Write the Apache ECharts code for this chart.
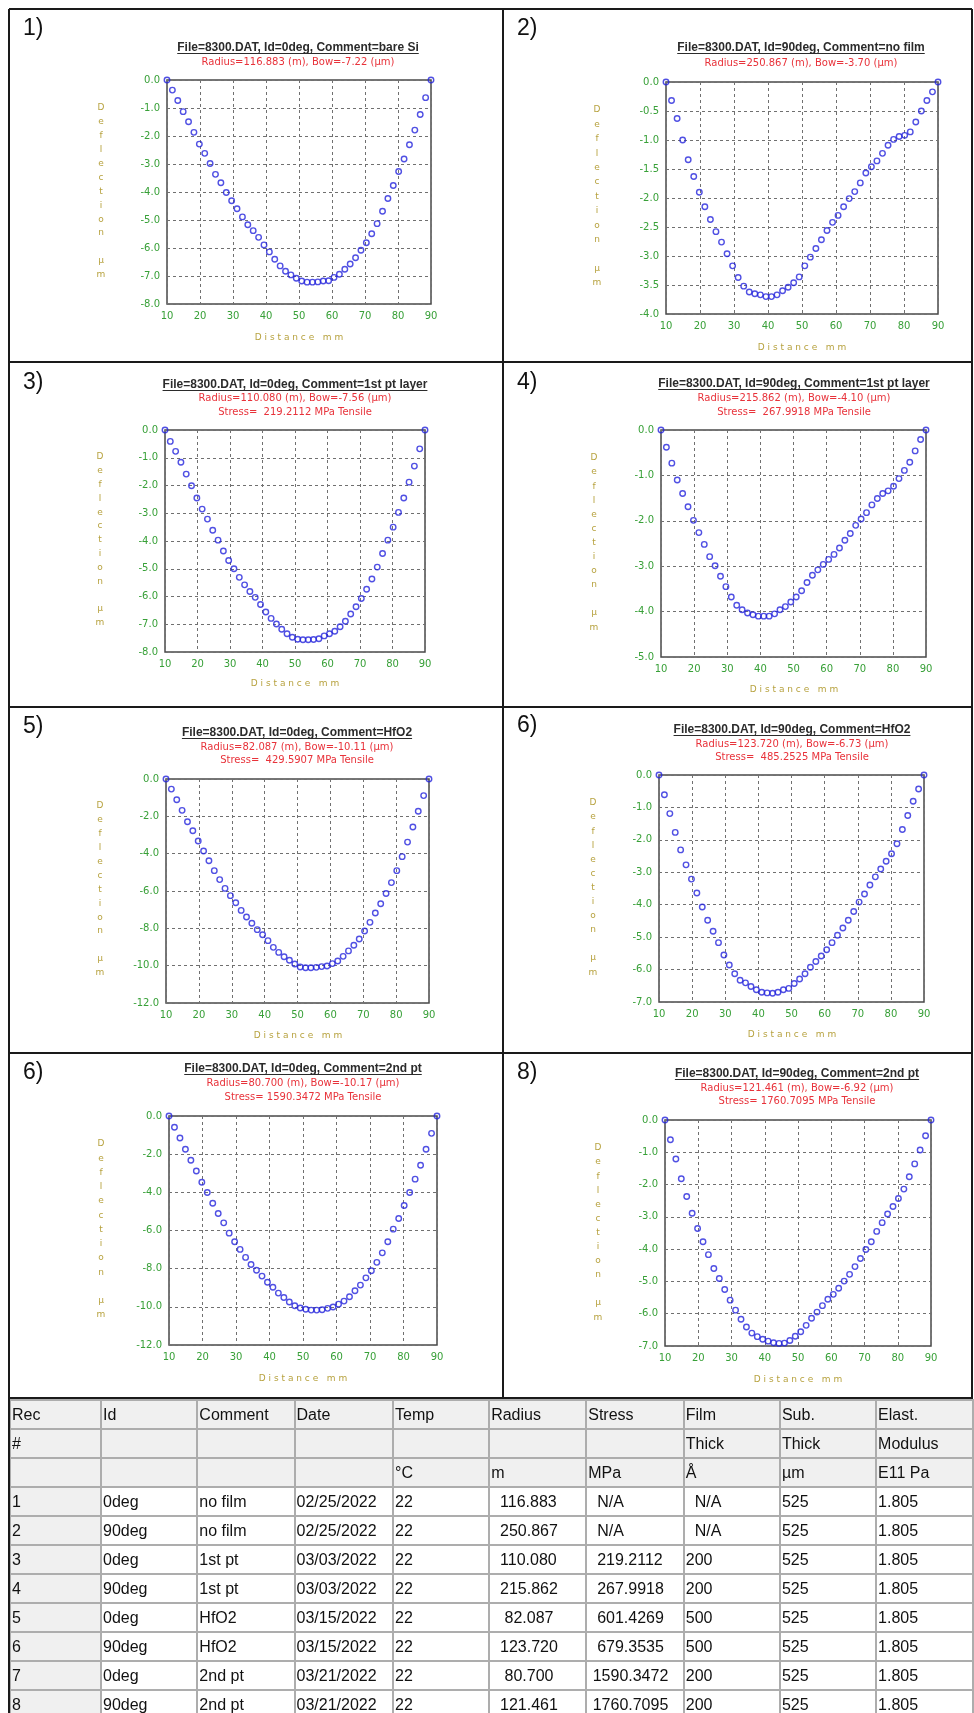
<!DOCTYPE html>
<html>
<head>
<meta charset="utf-8">
<title>8300.DAT deflection scans</title>
<script src="https://cdn.jsdelivr.net/npm/echarts@6.0.0/dist/echarts.min.js"></script>
<style>
  body { margin: 0; background: #fff; }
  #page { position: relative; width: 974px; height: 1713px; overflow: hidden; background: #fff; }
  #scans { position: absolute; left: 0; top: 0; width: 974px; height: 1400px; }
  #leftRule { position: absolute; left: 8px; top: 1398px; width: 2px; height: 315px; background: #1a1a1a; z-index: 2; }
  #recTable { position: absolute; left: 9px; top: 1399px; border-collapse: collapse; table-layout: fixed;
    font-family: "Liberation Sans", Arial, sans-serif; font-size: 16px; color: #111; }
  #recTable td { border: 2px solid #adadad; padding: 0 0 0 1px; white-space: pre; overflow: hidden;
    vertical-align: middle; line-height: 18px; }
  #recTable tr { height: 29px; }
  #recTable tr.head td { background: #f0f0f0; }
  #recTable td.rec { background: #f0f0f0; }
</style>
</head>
<body>
<div id="page">
  <div id="scans"></div>
  <div id="leftRule"></div>
  <table id="recTable"></table>
</div>
<script>
// sample positions along the wafer (mm), same for every scan
const distanceMm = [10.00, 11.63, 13.27, 14.90, 16.53, 18.16, 19.80, 21.43, 23.06, 24.69,
  26.33, 27.96, 29.59, 31.22, 32.86, 34.49, 36.12, 37.76, 39.39, 41.02,
  42.65, 44.29, 45.92, 47.55, 49.18, 50.82, 52.45, 54.08, 55.71, 57.35,
  58.98, 60.61, 62.24, 63.88, 65.51, 67.14, 68.78, 70.41, 72.04, 73.67,
  75.31, 76.94, 78.57, 80.20, 81.84, 83.47, 85.10, 86.73, 88.37, 90.00];

// deflection (um)
const deflection1 = [0, -0.36, -0.73, -1.13, -1.49, -1.87, -2.29, -2.62, -2.98, -3.37,
  -3.67, -4.02, -4.31, -4.60, -4.89, -5.17, -5.38, -5.62, -5.89, -6.14,
  -6.40, -6.64, -6.83, -6.96, -7.08, -7.18, -7.22, -7.22, -7.21, -7.18,
  -7.17, -7.05, -6.94, -6.76, -6.57, -6.35, -6.08, -5.81, -5.49, -5.13,
  -4.69, -4.23, -3.77, -3.27, -2.82, -2.31, -1.79, -1.23, -0.63, 0];
const deflection2 = [0, -0.32, -0.63, -1.00, -1.34, -1.63, -1.90, -2.15, -2.37, -2.58,
  -2.76, -2.96, -3.17, -3.37, -3.52, -3.62, -3.65, -3.67, -3.70, -3.70,
  -3.67, -3.60, -3.54, -3.46, -3.36, -3.17, -3.02, -2.87, -2.72, -2.56,
  -2.42, -2.30, -2.15, -2.01, -1.89, -1.74, -1.57, -1.46, -1.36, -1.23,
  -1.09, -0.99, -0.94, -0.92, -0.86, -0.69, -0.50, -0.32, -0.17, 0];
const deflection3 = [0, -0.41, -0.77, -1.16, -1.59, -2.01, -2.45, -2.85, -3.21, -3.61,
  -3.97, -4.36, -4.70, -5.00, -5.31, -5.58, -5.82, -6.03, -6.29, -6.56,
  -6.79, -6.99, -7.18, -7.34, -7.47, -7.54, -7.56, -7.56, -7.55, -7.52,
  -7.42, -7.34, -7.25, -7.09, -6.89, -6.63, -6.37, -6.07, -5.74, -5.37,
  -4.94, -4.45, -3.97, -3.50, -2.97, -2.45, -1.88, -1.30, -0.68, 0];
const deflection4 = [0, -0.38, -0.73, -1.10, -1.40, -1.69, -1.99, -2.26, -2.52, -2.79,
  -2.99, -3.22, -3.45, -3.68, -3.86, -3.96, -4.03, -4.07, -4.10, -4.10,
  -4.10, -4.05, -3.96, -3.89, -3.79, -3.68, -3.54, -3.36, -3.20, -3.08,
  -2.96, -2.85, -2.74, -2.60, -2.43, -2.28, -2.10, -1.96, -1.82, -1.65,
  -1.51, -1.40, -1.34, -1.24, -1.07, -0.89, -0.71, -0.46, -0.21, 0];
const deflection5 = [0, -0.54, -1.11, -1.68, -2.29, -2.77, -3.32, -3.86, -4.38, -4.91,
  -5.39, -5.86, -6.25, -6.63, -7.04, -7.39, -7.73, -8.07, -8.34, -8.66,
  -9.02, -9.29, -9.52, -9.71, -9.91, -10.07, -10.11, -10.11, -10.09, -10.05,
  -10.02, -9.89, -9.75, -9.50, -9.21, -8.91, -8.57, -8.14, -7.68, -7.18,
  -6.68, -6.13, -5.55, -4.91, -4.16, -3.38, -2.57, -1.73, -0.89, 0];
const deflection6 = [0, -0.61, -1.19, -1.77, -2.31, -2.77, -3.21, -3.64, -4.07, -4.48,
  -4.82, -5.17, -5.55, -5.86, -6.13, -6.33, -6.41, -6.52, -6.62, -6.70,
  -6.72, -6.73, -6.70, -6.62, -6.58, -6.43, -6.29, -6.13, -5.93, -5.75,
  -5.58, -5.39, -5.17, -4.94, -4.72, -4.48, -4.21, -3.92, -3.67, -3.39,
  -3.14, -2.90, -2.66, -2.43, -2.12, -1.68, -1.25, -0.81, -0.43, 0];
const deflection7 = [0, -0.59, -1.15, -1.74, -2.32, -2.88, -3.47, -4.01, -4.57, -5.11,
  -5.60, -6.14, -6.59, -6.99, -7.41, -7.78, -8.08, -8.39, -8.71, -8.97,
  -9.28, -9.51, -9.75, -9.94, -10.06, -10.13, -10.17, -10.17, -10.15, -10.08,
  -10.01, -9.86, -9.70, -9.47, -9.16, -8.86, -8.48, -8.11, -7.67, -7.17,
  -6.59, -5.93, -5.37, -4.69, -4.01, -3.31, -2.58, -1.74, -0.91, 0];
const deflection8 = [0, -0.61, -1.21, -1.82, -2.37, -2.89, -3.36, -3.77, -4.17, -4.60,
  -4.91, -5.25, -5.58, -5.89, -6.17, -6.41, -6.60, -6.71, -6.79, -6.85,
  -6.90, -6.92, -6.91, -6.83, -6.70, -6.56, -6.36, -6.14, -5.95, -5.75,
  -5.55, -5.40, -5.21, -4.99, -4.78, -4.54, -4.29, -4.01, -3.77, -3.45,
  -3.18, -2.91, -2.68, -2.43, -2.14, -1.76, -1.36, -0.93, -0.49, 0];

const panelLabels = ['1)', '2)', '3)', '4)', '5)', '6)', '6)', '8)'];
const scanTitles = [
  'File=8300.DAT, Id=0deg, Comment=bare Si',
  'File=8300.DAT, Id=90deg, Comment=no film',
  'File=8300.DAT, Id=0deg, Comment=1st pt layer',
  'File=8300.DAT, Id=90deg, Comment=1st pt layer',
  'File=8300.DAT, Id=0deg, Comment=HfO2',
  'File=8300.DAT, Id=90deg, Comment=HfO2',
  'File=8300.DAT, Id=0deg, Comment=2nd pt',
  'File=8300.DAT, Id=90deg, Comment=2nd pt'
];
const radiusBowLines = [
  'Radius=116.883 (m), Bow=-7.22 (\u00b5m)',
  'Radius=250.867 (m), Bow=-3.70 (\u00b5m)',
  'Radius=110.080 (m), Bow=-7.56 (\u00b5m)',
  'Radius=215.862 (m), Bow=-4.10 (\u00b5m)',
  'Radius=82.087 (m), Bow=-10.11 (\u00b5m)',
  'Radius=123.720 (m), Bow=-6.73 (\u00b5m)',
  'Radius=80.700 (m), Bow=-10.17 (\u00b5m)',
  'Radius=121.461 (m), Bow=-6.92 (\u00b5m)'
];
const stressLines = [
  '', '',
  'Stress=  219.2112 MPa Tensile',
  'Stress=  267.9918 MPa Tensile',
  'Stress=  429.5907 MPa Tensile',
  'Stress=  485.2525 MPa Tensile',
  'Stress= 1590.3472 MPa Tensile',
  'Stress= 1760.7095 MPa Tensile'
];
const yMins = [-8, -4, -8, -5, -12, -7, -12, -7];
const yIntervals = [1, 0.5, 1, 1, 2, 1, 2, 1];
const xMin = 10, xMax = 90, xInterval = 10;
const yAxisTitle = 'D\ne\nf\nl\ne\nc\nt\ni\no\nn\n\n\u00b5\nm';
const xAxisTitle = 'D i s t a n c e   m m';

// record table
const tableHeadRows = [
  ['Rec', 'Id', 'Comment', 'Date', 'Temp', 'Radius', 'Stress', 'Film', 'Sub.', 'Elast.'],
  ['#', '', '', '', '', '', '', 'Thick', 'Thick', 'Modulus'],
  ['', '', '', '', '\u00b0C', 'm', 'MPa', '\u00c5', '\u00b5m', 'E11 Pa']
];
const recNumbers = ['1', '2', '3', '4', '5', '6', '7', '8'];
const recIds = ['0deg', '90deg', '0deg', '90deg', '0deg', '90deg', '0deg', '90deg'];
const recComments = ['no film', 'no film', '1st pt', '1st pt', 'HfO2', 'HfO2', '2nd pt', '2nd pt'];
const recDates = ['02/25/2022', '02/25/2022', '03/03/2022', '03/03/2022', '03/15/2022', '03/15/2022', '03/21/2022', '03/21/2022'];
const recTemps = ['22', '22', '22', '22', '22', '22', '22', '22'];
const recRadius = ['  116.883', '  250.867', '  110.080', '  215.862', '   82.087', '  123.720', '   80.700', '  121.461'];
const recStress = ['  N/A', '  N/A', '  219.2112', '  267.9918', '  601.4269', '  679.3535', ' 1590.3472', ' 1760.7095'];
const recFilmThick = ['  N/A', '  N/A', '200', '200', '500', '500', '200', '200'];
const recSubThick = ['525', '525', '525', '525', '525', '525', '525', '525'];
const recModulus = ['1.805', '1.805', '1.805', '1.805', '1.805', '1.805', '1.805', '1.805'];

const scans = [deflection1, deflection2, deflection3, deflection4, deflection5, deflection6, deflection7, deflection8];

// where each screenshot sits on the page
const panelLayout = [
  {label: [23, 29], title: [298, 48], sub: [62], plot: [167, 80, 431, 304], yName: [101, 108, 13.9], xName: [299, 338]},
  {label: [517, 29], title: [801, 48], sub: [63], plot: [666, 82, 938, 314], yName: [597, 110, 14.4], xName: [802, 348]},
  {label: [23, 383], title: [295, 385], sub: [398, 412], plot: [165, 430, 425, 652], yName: [100, 457, 13.8], xName: [295, 684]},
  {label: [517, 383], title: [794, 384], sub: [398, 412], plot: [661, 430, 926, 657], yName: [594, 458, 14.1], xName: [794, 690]},
  {label: [23, 727], title: [297, 733], sub: [747, 760], plot: [166, 779, 429, 1003], yName: [100, 806, 13.9], xName: [298, 1036]},
  {label: [517, 726], title: [792, 730], sub: [744, 757], plot: [659, 775, 924, 1002], yName: [593, 803, 14.1], xName: [792, 1035]},
  {label: [23, 1073], title: [303, 1069], sub: [1083, 1097], plot: [169, 1116, 437, 1345], yName: [101, 1144, 14.25], xName: [303, 1379]},
  {label: [517, 1073], title: [797, 1074], sub: [1088, 1101], plot: [665, 1120, 931, 1346], yName: [598, 1148, 14.1], xName: [798, 1380]}
];

const labelGreen = '#38a038';
const nameOlive = '#b7a23f';
const markBlue = '#2424dc';
const subRed = '#e8323a';

const measureCtx = document.createElement('canvas').getContext('2d');
function textWidth(text, font) {
  measureCtx.font = font;
  return measureCtx.measureText(text).width;
}

function textEl(x, y, text, style) {
  return {
    type: 'text', x: x, y: y, silent: true,
    style: Object.assign({
      text: text,
      align: 'center', verticalAlign: 'middle',
      textAlign: 'center', textVerticalAlign: 'middle'
    }, style)
  };
}

function lineEl(x1, y1, x2, y2, stroke, width) {
  return {type: 'line', silent: true, shape: {x1, y1, x2, y2}, style: {stroke: stroke, lineWidth: width}};
}

const grids = [], xAxes = [], yAxes = [], series = [], graphics = [];

panelLayout.forEach((p, i) => {
  const [l, t, r, b] = p.plot;
  grids.push({left: l, top: t, width: r - l, height: b - t, show: true,
    borderColor: '#4a4a4a', borderWidth: 1.5, backgroundColor: 'transparent'});

  const tickLabel = {color: labelGreen, fontFamily: 'DejaVu Sans', fontSize: 10, margin: 7,
    showMinLabel: true, showMaxLabel: true};
  const dashed = {show: true, lineStyle: {color: '#707070', width: 1, type: [3, 3]}};

  xAxes.push({gridIndex: i, type: 'value', min: xMin, max: xMax, interval: xInterval,
    axisLine: {show: false}, axisTick: {show: false},
    axisLabel: tickLabel, splitLine: dashed});
  yAxes.push({gridIndex: i, type: 'value', min: yMins[i], max: 0, interval: yIntervals[i],
    axisLine: {show: false}, axisTick: {show: false},
    axisLabel: Object.assign({formatter: v => v.toFixed(1)}, tickLabel), splitLine: dashed});

  series.push({
    type: 'scatter', xAxisIndex: i, yAxisIndex: i, silent: true, clip: false,
    symbol: 'circle', symbolSize: 5.5,
    itemStyle: {color: 'rgba(255,255,255,0)', borderColor: markBlue, borderWidth: 1.4},
    data: distanceMm.map((d, k) => [d, scans[i][k]])
  });

  // panel number
  graphics.push(textEl(p.label[0], p.label[1], panelLabels[i],
    {fill: '#111', fontFamily: 'Liberation Sans', fontSize: 23, align: 'left', textAlign: 'left'}));

  // underlined file title
  const titleFont = 'bold 12px "Liberation Sans"';
  const w = textWidth(scanTitles[i], titleFont);
  graphics.push(textEl(p.title[0], p.title[1], scanTitles[i],
    {fill: '#2b2b2b', fontFamily: 'Liberation Sans', fontSize: 12, fontWeight: 'bold'}));
  graphics.push(lineEl(p.title[0] - w / 2, p.title[1] + 5.5, p.title[0] + w / 2, p.title[1] + 5.5, '#2b2b2b', 1));

  // red result lines
  const subTexts = [radiusBowLines[i], stressLines[i]].filter(s => s);
  subTexts.forEach((s, k) => {
    graphics.push(textEl(p.title[0], p.sub[k], s,
      {fill: subRed, fontFamily: 'DejaVu Sans', fontSize: 10}));
  });

  // axis names
  graphics.push(textEl(p.yName[0], p.yName[1] - p.yName[2] / 2, yAxisTitle,
    {fill: nameOlive, fontFamily: 'DejaVu Sans', fontSize: 9, lineHeight: p.yName[2],
      verticalAlign: 'top', textVerticalAlign: 'top'}));
  graphics.push(textEl(p.xName[0], p.xName[1], xAxisTitle,
    {fill: nameOlive, fontFamily: 'DejaVu Sans', fontSize: 9}));
});

// cell borders of the screenshot grid
const rule = '#1a1a1a';
graphics.push(lineEl(9, 9, 972, 9, rule, 2));
graphics.push(lineEl(9, 9, 9, 1399, rule, 2));
graphics.push(lineEl(972, 9, 972, 1399, rule, 2));
graphics.push(lineEl(503, 9, 503, 1399, rule, 2));
[362, 707, 1053, 1398].forEach(y => graphics.push(lineEl(9, y, 972, y, rule, 2)));

const option = {
  animation: false,
  backgroundColor: '#fff',
  grid: grids,
  xAxis: xAxes,
  yAxis: yAxes,
  series: series,
  graphic: graphics
};

const chart = echarts.init(document.getElementById('scans'));
chart.setOption(option);

// record table under the plots
function buildTable() {
  const tableEl = document.getElementById('recTable');
  const colWidths = [93, 98, 98, 99, 98, 98, 98, 98, 98, 98];
  let html = '<colgroup>' + colWidths.map(w => `<col style="width:${w}px">`).join('') + '</colgroup>';
  for (const row of tableHeadRows) {
    html += '<tr class="head">' + row.map(c => `<td>${c}</td>`).join('') + '</tr>';
  }
  recNumbers.forEach((n, i) => {
    const cells = [recIds[i], recComments[i], recDates[i], recTemps[i], recRadius[i],
      recStress[i], recFilmThick[i], recSubThick[i], recModulus[i]];
    html += `<tr><td class="rec">${n}</td>` + cells.map(c => `<td>${c}</td>`).join('') + '</tr>';
  });
  tableEl.innerHTML = html;
}
buildTable();
</script>
</body>
</html>
